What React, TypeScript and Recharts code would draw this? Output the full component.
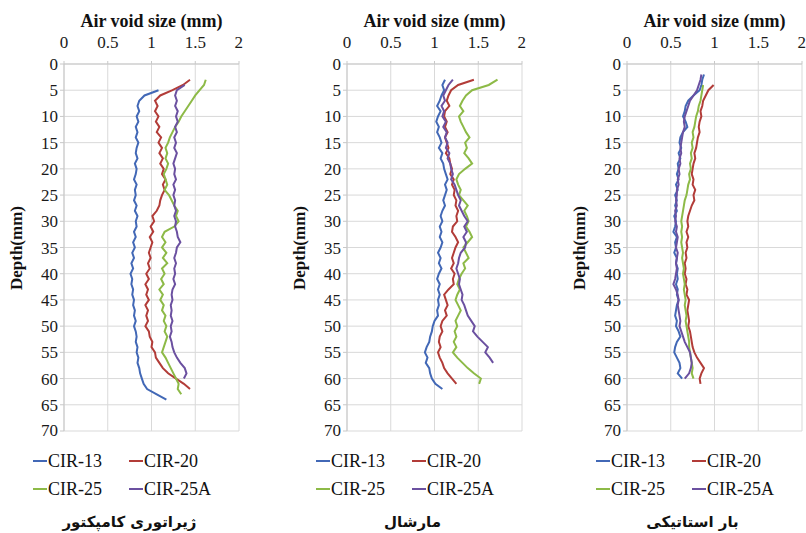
import React from 'react';
import { ScatterChart, Scatter, XAxis, YAxis, CartesianGrid } from 'recharts';

// Depth positions (mm), one per row of each series below
const DEPTH = [
  2, 3, 4, 5, 6, 7, 8, 9,
  10, 11, 12, 13, 14, 15, 16, 17, 18, 19,
  20, 21, 22, 23, 24, 25, 26, 27, 28, 29,
  30, 31, 32, 33, 34, 35, 36, 37, 38, 39,
  40, 41, 42, 43, 44, 45, 46, 47, 48, 49,
  50, 51, 52, 53, 54, 55, 56, 57, 58, 59,
  60, 61, 62, 63, 64,
];

const SERIES_NAMES = ['CIR-13', 'CIR-20', 'CIR-25', 'CIR-25A'];
const SERIES_COLORS = ['#4268B6', '#B23C38', '#8DBA47', '#6B50A0'];

const X_TICKS = [0, 0.5, 1, 1.5, 2];
const Y_TICKS = [0, 5, 10, 15, 20, 25, 30, 35, 40, 45, 50, 55, 60, 65, 70];

// Panel 1: gyratory compactor
const GYR_13 = [
  null, null, null, 1.08, 0.92, 0.86, 0.84, 0.86,
  0.83, 0.85, 0.82, 0.84, 0.82, 0.85, 0.83, 0.82, 0.84, 0.81,
  0.83, 0.82, 0.80, 0.83, 0.81, 0.82, 0.80, 0.83, 0.81, 0.84,
  0.82, 0.83, 0.80, 0.82, 0.79, 0.81, 0.78, 0.80, 0.77, 0.79,
  0.76, 0.78, 0.77, 0.79, 0.78, 0.80, 0.79, 0.81, 0.80, 0.82,
  0.80, 0.82, 0.83, 0.82, 0.84, 0.83, 0.85, 0.84, 0.86, 0.87,
  0.89, 0.91, 0.95, 1.06, 1.17,
];
const GYR_20 = [
  null, 1.44, 1.36, 1.24, 1.10, 1.04, 1.07, 1.04,
  1.08, 1.05, 1.09, 1.06, 1.11, 1.08, 1.12, 1.09, 1.13, 1.10,
  1.14, 1.12, 1.16, 1.13, 1.15, 1.12, 1.10, 1.09, 1.06, 1.01,
  1.03, 0.99, 1.02, 0.98, 1.01, 0.99, 0.97, 0.99, 0.96, 0.98,
  0.94, 0.97, 0.93, 0.96, 0.94, 0.97, 0.93, 0.96, 0.94, 0.96,
  0.93, 0.97, 0.98, 1.01, 1.00, 1.04, 1.05, 1.09, 1.13, 1.19,
  1.28, 1.37, 1.44, null, null,
];
const GYR_25 = [
  null, 1.62, 1.60, 1.55, 1.50, 1.46, 1.42, 1.38,
  1.34, 1.31, 1.27, 1.24, 1.21, 1.19, 1.16, 1.18, 1.16, 1.19,
  1.17, 1.14, 1.16, 1.18, 1.15, 1.20, 1.23, 1.26, 1.30, 1.28,
  1.31, 1.26, 1.15, 1.12, 1.16, 1.12, 1.17, 1.13, 1.18, 1.12,
  1.15, 1.11, 1.14, 1.09, 1.13, 1.10, 1.14, 1.12, 1.16, 1.14,
  1.17, 1.15, 1.18, 1.16, 1.14, 1.12, 1.16, 1.19, 1.22, 1.25,
  1.28, 1.31, 1.30, 1.34, null,
];
const GYR_25A = [
  null, null, 1.38, 1.29, 1.27, 1.29, 1.27, 1.30,
  1.28, 1.30, 1.27, 1.29, 1.26, 1.28, 1.26, 1.29, 1.27, 1.25,
  1.27, 1.26, 1.28, 1.25, 1.27, 1.25, 1.27, 1.26, 1.28, 1.26,
  1.28, 1.27, 1.29, 1.30, 1.33, 1.29, 1.28, 1.26, 1.28, 1.26,
  1.27, 1.25, 1.27, 1.24, 1.23, 1.24, 1.22, 1.23, 1.22, 1.24,
  1.22, 1.23, 1.21, 1.23, 1.24, 1.26, 1.29, 1.33, 1.38, 1.40,
  1.37, null, null, null, null,
];

// Panel 2: Marshall
const MAR_13 = [
  null, 1.12, 1.09, 1.11, 1.08, 1.06, 1.03, 1.07,
  1.04, 1.02, 1.05, 1.03, 1.06, 1.08, 1.05, 1.09, 1.07, 1.10,
  1.11, 1.13, 1.15, 1.12, 1.14, 1.12, 1.10, 1.12, 1.09, 1.07,
  1.09, 1.06, 1.08, 1.06, 1.09, 1.07, 1.04, 1.07, 1.05, 1.08,
  1.05, 1.03, 1.06, 1.04, 1.06, 1.04, 1.05, 1.03, 1.04, 1.00,
  0.98, 0.97, 0.95, 0.94, 0.91, 0.89, 0.92, 0.90, 0.94, 0.95,
  0.97, 1.01, 1.09, null, null,
];
const MAR_20 = [
  null, 1.45, 1.27, 1.19, 1.16, 1.14, 1.17, 1.12,
  1.11, 1.14, 1.12, 1.15, 1.12, 1.14, 1.16, 1.13, 1.17, 1.18,
  1.20, 1.18, 1.22, 1.20, 1.23, 1.22, 1.25, 1.24, 1.27, 1.25,
  1.26, 1.21, 1.20, 1.24, 1.27, 1.24, 1.22, 1.20, 1.22, 1.19,
  1.23, 1.21, 1.22, 1.16, 1.11, 1.13, 1.15, 1.12, 1.14, 1.09,
  1.07, 1.09, 1.06, 1.05, 1.07, 1.04, 1.06, 1.09, 1.11, 1.15,
  1.20, 1.25, null, null, null,
];
const MAR_25 = [
  null, 1.72, 1.62, 1.43, 1.36, 1.32, 1.29, 1.33,
  1.28, 1.30, 1.33, 1.36, 1.40, 1.35, 1.37, 1.34, 1.39, 1.43,
  1.35, 1.28, 1.25, 1.27, 1.30, 1.28, 1.33, 1.38, 1.34, 1.37,
  1.39, 1.36, 1.40, 1.43, 1.38, 1.33, 1.36, 1.39, 1.33, 1.35,
  1.31, 1.28, 1.26, 1.29, 1.26, 1.24, 1.27, 1.30, 1.27, 1.24,
  1.26, 1.23, 1.25, 1.22, 1.25, 1.21, 1.26, 1.32, 1.38, 1.45,
  1.53, 1.51, null, null, null,
];
const MAR_25A = [
  null, 1.21, 1.16, 1.13, 1.10, 1.12, 1.08, 1.11,
  1.09, 1.13, 1.10, 1.14, 1.12, 1.15, 1.13, 1.17, 1.15, 1.18,
  1.19, 1.21, 1.19, 1.23, 1.25, 1.27, 1.30, 1.28, 1.31, 1.34,
  1.38, 1.34, 1.37, 1.33, 1.36, 1.35, 1.30, 1.28, 1.27, 1.25,
  1.27, 1.29, 1.28, 1.30, 1.32, 1.31, 1.34, 1.36, 1.38, 1.42,
  1.46, 1.44, 1.49, 1.55, 1.61, 1.58, 1.63, 1.67, null, null,
  null, null, null, null, null,
];

// Panel 3: static load
const STA_13 = [
  0.88, 0.86, 0.85, 0.83, 0.76, 0.70, 0.67, 0.66,
  0.64, 0.67, 0.69, 0.64, 0.61, 0.60, 0.62, 0.59, 0.61, 0.58,
  0.59, 0.57, 0.59, 0.56, 0.58, 0.55, 0.57, 0.55, 0.57, 0.54,
  0.56, 0.55, 0.53, 0.57, 0.55, 0.56, 0.54, 0.57, 0.56, 0.58,
  0.57, 0.58, 0.56, 0.58, 0.57, 0.59, 0.57, 0.56, 0.55, 0.57,
  0.56, 0.59, 0.61, 0.57, 0.55, 0.54, 0.57, 0.60, 0.61, 0.58,
  0.63, null, null, null, null,
];
const STA_20 = [
  null, null, 0.99, 0.93, 0.90, 0.87, 0.86, 0.84,
  0.85, 0.83, 0.82, 0.83, 0.81, 0.80, 0.79, 0.77, 0.78, 0.76,
  0.75, 0.74, 0.76, 0.75, 0.78, 0.76, 0.77, 0.74, 0.72, 0.70,
  0.69, 0.70, 0.68, 0.70, 0.68, 0.69, 0.67, 0.68, 0.66, 0.67,
  0.66, 0.68, 0.67, 0.69, 0.68, 0.71, 0.70, 0.69, 0.70, 0.71,
  0.70, 0.72, 0.73, 0.74, 0.75, 0.77, 0.80, 0.84, 0.88, 0.85,
  0.83, 0.84, null, null, null,
];
const STA_25 = [
  null, null, 0.87, 0.86, 0.85, 0.84, 0.82, 0.81,
  0.79, 0.78, 0.77, 0.75, 0.76, 0.74, 0.75, 0.73, 0.74, 0.72,
  0.73, 0.71, 0.72, 0.70, 0.69, 0.68, 0.66, 0.65, 0.64, 0.63,
  0.62, 0.63, 0.62, 0.63, 0.62, 0.63, 0.64, 0.63, 0.64, 0.65,
  0.64, 0.65, 0.66, 0.65, 0.66, 0.67, 0.66, 0.67, 0.68, 0.67,
  0.68, 0.69, 0.70, 0.71, 0.71, 0.72, 0.73, 0.74, 0.75, 0.74,
  0.76, null, null, null, null,
];
const STA_25A = [
  0.85, 0.84, 0.82, 0.80, 0.76, 0.72, 0.70, 0.68,
  0.66, 0.65, 0.66, 0.64, 0.63, 0.62, 0.61, 0.62, 0.60, 0.61,
  0.59, 0.60, 0.58, 0.59, 0.57, 0.57, 0.56, 0.57, 0.55, 0.56,
  0.55, 0.57, 0.56, 0.58, 0.57, 0.56, 0.58, 0.57, 0.56, 0.57,
  0.56, 0.55, 0.53, 0.56, 0.58, 0.59, 0.58, 0.59, 0.60, 0.61,
  0.60, 0.62, 0.64, 0.66, 0.69, 0.72, 0.73, 0.74, 0.73, 0.71,
  0.66, null, null, null, null,
];

const PANEL_TITLES = ['ژیراتوری کامپکتور', 'مارشال', 'بار استاتیکی'];
const PANEL_SERIES = [
  [GYR_13, GYR_20, GYR_25, GYR_25A],
  [MAR_13, MAR_20, MAR_25, MAR_25A],
  [STA_13, STA_20, STA_25, STA_25A],
];

const X_TITLE = 'Air void size (mm)';
const Y_TITLE = 'Depth(mm)';

const SERIF = 'Liberation Serif';
const PANEL_LEFTS = [0, 283, 563];
const CHART_W = 243;
const CHART_H = 440;
const M = { top: 34, right: 4, bottom: 9, left: 24 };
const Y_AXIS_W = 40;
const X_AXIS_H = 30;

function toPoints(vals: (number | null)[]) {
  return DEPTH.map((d, i) => ({ x: vals[i], y: d })).filter((p) => p.x !== null);
}

const noDot = () => <g />;

function Panel({ idx }: { idx: number }) {
  const left = PANEL_LEFTS[idx];
  const plotLeft = left + M.left + Y_AXIS_W;
  const plotRight = left + CHART_W - M.right;
  const plotTop = M.top + X_AXIS_H;
  const plotBottom = CHART_H - M.bottom;
  const cx = (plotLeft + plotRight) / 2;
  const cy = (plotTop + plotBottom) / 2;
  const tickStyle = { fill: '#1a1a1a', fontSize: 17, fontFamily: SERIF };
  return (
    <>
      <div style={{ position: 'absolute', left, top: 0 }}>
        <ScatterChart width={CHART_W} height={CHART_H} margin={M} style={{ fontFamily: SERIF }}>
          <CartesianGrid stroke="#d9d9d9" strokeWidth={1} />
          <XAxis
            type="number"
            dataKey="x"
            orientation="top"
            domain={[0, 2]}
            ticks={X_TICKS}
            height={X_AXIS_H}
            tick={tickStyle}
            tickSize={3}
            tickMargin={13}
            axisLine={{ stroke: '#c8c8c8' }}
            tickLine={{ stroke: '#c8c8c8' }}
            allowDataOverflow
          />
          <YAxis
            type="number"
            dataKey="y"
            reversed
            domain={[0, 70]}
            ticks={Y_TICKS}
            width={Y_AXIS_W}
            tick={tickStyle}
            tickSize={4}
            tickMargin={2}
            axisLine={{ stroke: '#c8c8c8' }}
            tickLine={{ stroke: '#c8c8c8' }}
            allowDataOverflow
          />
          {PANEL_SERIES[idx].map((vals, s) => (
            <Scatter
              key={SERIES_NAMES[s]}
              name={SERIES_NAMES[s]}
              data={toPoints(vals)}
              line={{ stroke: SERIES_COLORS[s], strokeWidth: 2 }}
              shape={noDot}
              isAnimationActive={false}
            />
          ))}
        </ScatterChart>
      </div>
      <div
        style={{
          position: 'absolute', left: cx - 100, width: 200, top: 13, textAlign: 'center',
          fontFamily: SERIF, fontWeight: 'bold', fontSize: 18, lineHeight: '16px', color: '#111',
          whiteSpace: 'nowrap',
        }}
      >
        {X_TITLE}
      </div>
      <div
        style={{
          position: 'absolute', left: plotLeft - 47, top: cy,
          transform: 'translate(-50%, -50%) rotate(-90deg)',
          fontFamily: SERIF, fontWeight: 'bold', fontSize: 17, lineHeight: '16px', color: '#111',
          whiteSpace: 'nowrap',
        }}
      >
        {Y_TITLE}
      </div>
      {SERIES_NAMES.map((name, s) => (
        <div
          key={name}
          style={{
            position: 'absolute',
            left: plotLeft - 31 + (s % 2) * 96,
            top: 451 + Math.floor(s / 2) * 28,
            height: 20, display: 'flex', alignItems: 'center',
            fontFamily: SERIF, fontSize: 18, lineHeight: '20px', color: '#111', whiteSpace: 'nowrap',
          }}
        >
          <span style={{ display: 'inline-block', width: 14, height: 2, background: SERIES_COLORS[s], marginRight: 1 }} />
          {name}
        </div>
      ))}
      <div
        style={{
          position: 'absolute', left: cx - 22 - 120, width: 240, top: 512, textAlign: 'center',
          fontFamily: 'DejaVu Sans', fontWeight: 'bold', fontSize: 15, lineHeight: '20px',
          color: '#111', direction: 'rtl', whiteSpace: 'nowrap',
        }}
      >
        {PANEL_TITLES[idx]}
      </div>
    </>
  );
}

export default function App() {
  return (
    <div style={{ position: 'absolute', left: 0, top: 0, width: 806, height: 533, overflow: 'hidden', background: '#fff' }}>
      {[0, 1, 2].map((i) => (
        <Panel key={i} idx={i} />
      ))}
    </div>
  );
}
